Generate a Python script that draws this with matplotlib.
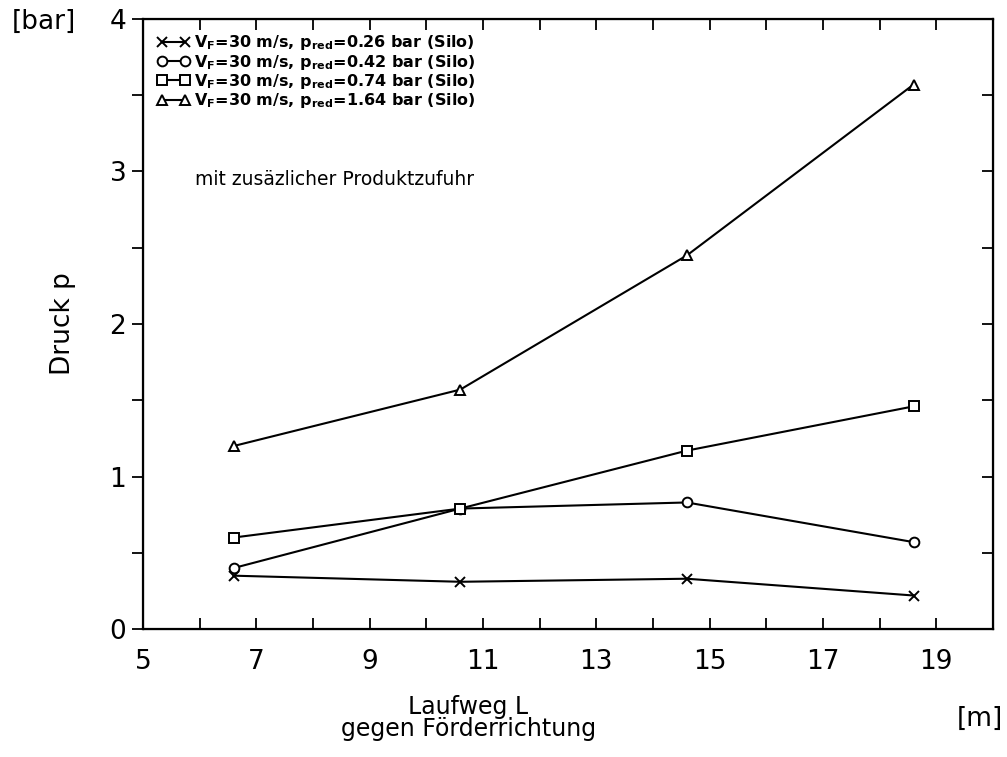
import numpy as np
import matplotlib
matplotlib.use("Agg")
import matplotlib.pyplot as plt
from matplotlib.ticker import MultipleLocator

# --- Messwerte ---
laufweg = [6.6, 10.6, 14.6, 18.6]
p_026 = [0.35, 0.31, 0.33, 0.22]
p_042 = [0.40, 0.79, 0.83, 0.57]
p_074 = [0.60, 0.79, 1.17, 1.46]
p_164 = [1.20, 1.57, 2.45, 3.57]

labels = [
    r'V$_\mathregular{F}$=30 m/s, p$_\mathregular{red}$=0.26 bar (Silo)',
    r'V$_\mathregular{F}$=30 m/s, p$_\mathregular{red}$=0.42 bar (Silo)',
    r'V$_\mathregular{F}$=30 m/s, p$_\mathregular{red}$=0.74 bar (Silo)',
    r'V$_\mathregular{F}$=30 m/s, p$_\mathregular{red}$=1.64 bar (Silo)',
]
markers = ['x', 'o', 's', '^']

plt.rcParams['font.family'] = ['DejaVu Sans']
fig = plt.figure(figsize=(10.07, 7.57), dpi=100)
ax = fig.add_axes([0.142, 0.169, 0.844, 0.806])

for y, lab, m in zip([p_026, p_042, p_074, p_164], labels, markers):
    ax.plot(laufweg, y, color='black', lw=1.5, marker=m, markersize=7,
            markerfacecolor='white', markeredgecolor='black', markeredgewidth=1.4,
            label=lab)

ax.set_xlim(5, 20)
ax.set_ylim(0, 4)
ax.xaxis.set_minor_locator(MultipleLocator(1))
ax.set_xticks(np.arange(5, 20, 2))
ax.yaxis.set_major_locator(MultipleLocator(1))
ax.yaxis.set_minor_locator(MultipleLocator(0.5))

ax.tick_params(axis='x', which='both', direction='in', top=True, length=8, width=1.3,
               labelsize=19, pad=14)
ax.tick_params(axis='y', which='both', direction='out', length=8, width=1.3,
               labelsize=19, pad=4)
for sp in ax.spines.values():
    sp.set_linewidth(1.6)

# rechte Achse mit Innen-Ticks
ax2 = ax.twinx()
ax2.set_ylim(0, 4)
ax2.yaxis.set_major_locator(MultipleLocator(0.5))
ax2.tick_params(axis='y', direction='in', length=8, width=1.3, labelright=False)

ax.set_ylabel('Druck p', fontsize=19, labelpad=24)
fig.text(0.012, 0.962, '[bar]', fontsize=19)
fig.text(0.465, 0.082, 'Laufweg L\ngegen Förderrichtung', fontsize=17,
         ha='center', va='top', linespacing=0.9)
fig.text(0.95, 0.05, '[m]', fontsize=19, va='center')

ax.text(0.061, 0.728, 'mit zusäzlicher Produktzufuhr', transform=ax.transAxes,
        fontsize=13.5)

ax.legend(loc='upper left', frameon=False, numpoints=2,
          handlelength=2.0, handletextpad=0.3, labelspacing=0.02,
          borderaxespad=0.2, borderpad=0.7,
          prop={'weight': 'bold', 'size': 11.5})

fig.savefig('out.png', dpi=100)
